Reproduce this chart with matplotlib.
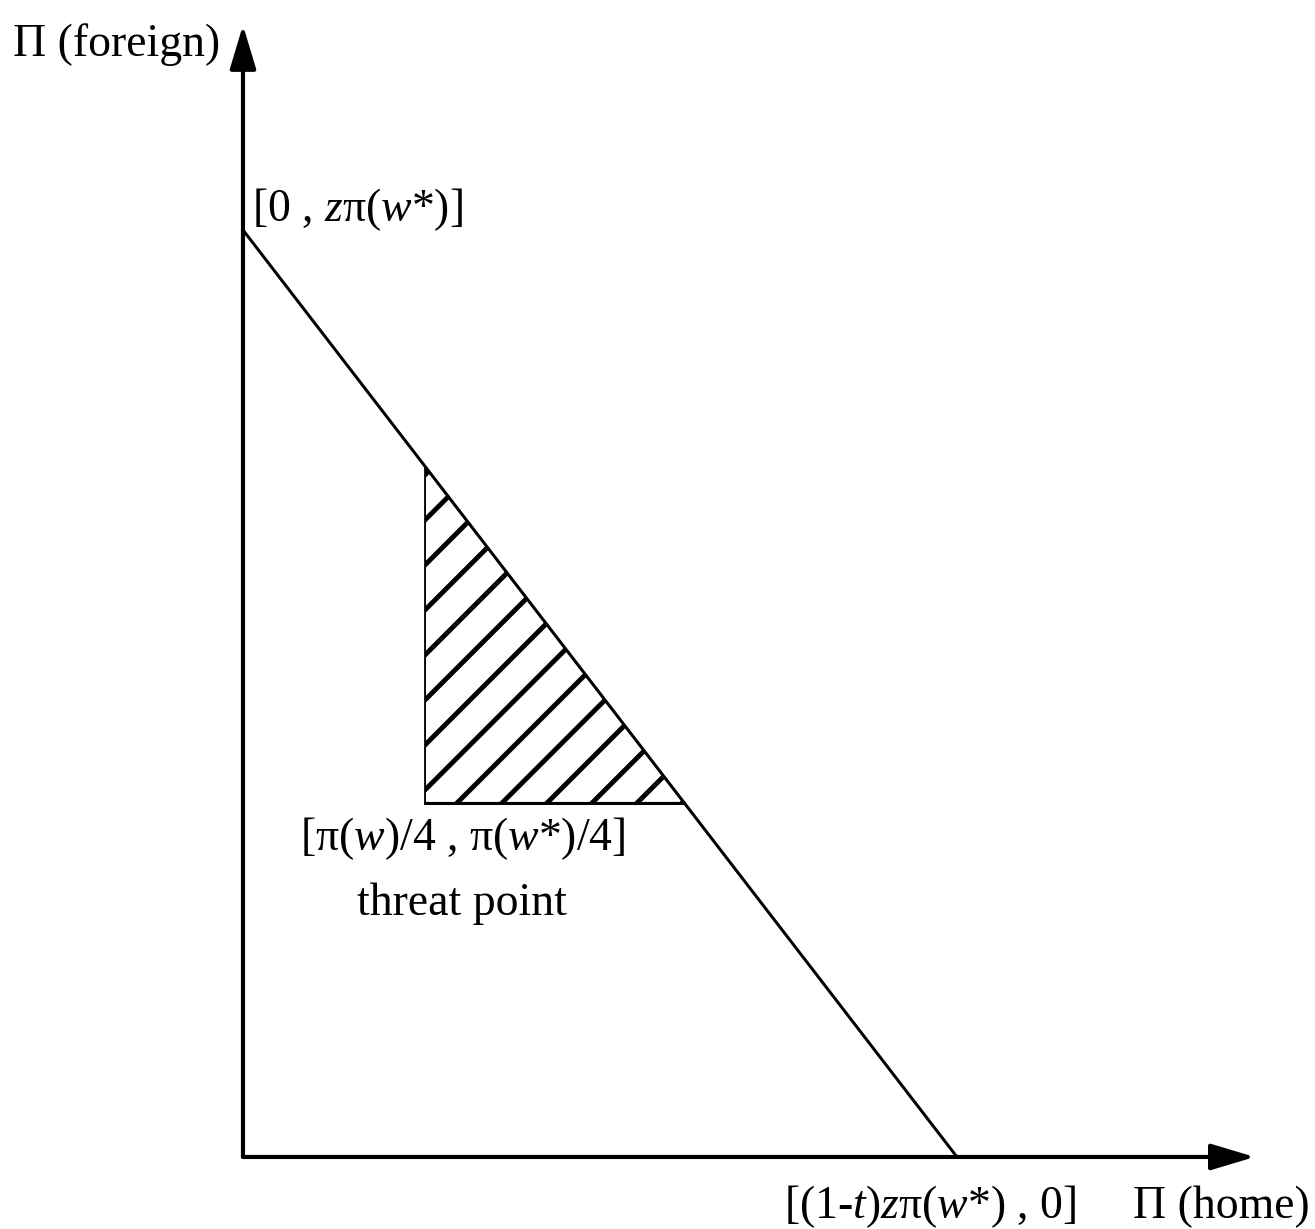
import numpy as np
import matplotlib
matplotlib.use("Agg")
import matplotlib.pyplot as plt

# figure size in pixels; dpi picked so the hatch spacing matches the scan
W_PX, H_PX = 1315, 1229
DPI = 270

# profit frontier, in units of its intercepts
frontier_x = [0.0, 1.0]
frontier_y = [1.0, 0.0]
# threat point [pi(w)/4, pi(w*)/4]
threat_x = 0.255
threat_y = 0.382
# axis extents
axis_x_end = 1.417
axis_y_end = 1.221

ylabel = "Π (foreign)"
xlabel = "Π (home)"
top_label = r"[0 , $\mathit{z}$π$\mathit{(w}$*$\mathit{)}$]"
right_label = r"[(1-$\mathit{t}$)$\mathit{z}$π$\mathit{(w}$*$\mathit{)}$ , 0]"
threat_label = r"[π$\mathit{(w)}$/4 , π$\mathit{(w}$*$\mathit{)}$/4]"
threat_name = "threat point"

plt.rcParams["font.family"] = ["Liberation Serif", "DejaVu Serif"]
plt.rcParams["mathtext.fontset"] = "custom"
plt.rcParams["mathtext.rm"] = "Liberation Serif"
plt.rcParams["mathtext.it"] = "Liberation Serif:italic"
plt.rcParams["hatch.linewidth"] = 1.3

fig = plt.figure(figsize=(W_PX / DPI, H_PX / DPI), dpi=DPI)
ax = fig.add_axes([0, 0, 1, 1])
ax.set_xlim(-0.3403, 1.5014)
ax.set_ylim(-0.0777, 1.2481)
ax.axis("off")

# axes with arrow heads
arrow_kw = dict(arrowstyle="-|>,head_length=1.0,head_width=0.3",
                color="k", lw=1.1, shrinkA=0, shrinkB=0)
ax.annotate("", xy=(axis_x_end, 0), xytext=(0, 0), arrowprops=arrow_kw)
ax.annotate("", xy=(0, axis_y_end), xytext=(0, 0), arrowprops=arrow_kw)

# frontier
ax.plot(frontier_x, frontier_y, color="k", lw=0.8, solid_capstyle="butt")

# hatched bargaining set above the threat point
top_y = np.interp(threat_x, frontier_x, frontier_y)
right_x = np.interp(threat_y, frontier_y[::-1], frontier_x[::-1])
ax.fill([threat_x, threat_x, right_x], [threat_y, top_y, threat_y],
        facecolor="none", edgecolor="k", hatch="//", lw=0.5)
ax.plot([threat_x, right_x], [threat_y, threat_y], color="k", lw=0.8)

fs = 12.2
ax.text(-0.032, 1.1996, ylabel, ha="right", va="center", fontsize=fs)
ax.text(0.012, 1.0216, top_label, ha="left", va="center", fontsize=fs)
ax.text(0.308, 0.343, threat_label, ha="center", va="center", fontsize=fs)
ax.text(0.307, 0.273, threat_name, ha="center", va="center", fontsize=fs)
ax.text(0.962, -0.054, right_label, ha="center", va="center", fontsize=fs)
ax.text(1.494, -0.054, xlabel, ha="right", va="center", fontsize=fs)

fig.savefig("out.png", dpi=DPI, facecolor="white")
